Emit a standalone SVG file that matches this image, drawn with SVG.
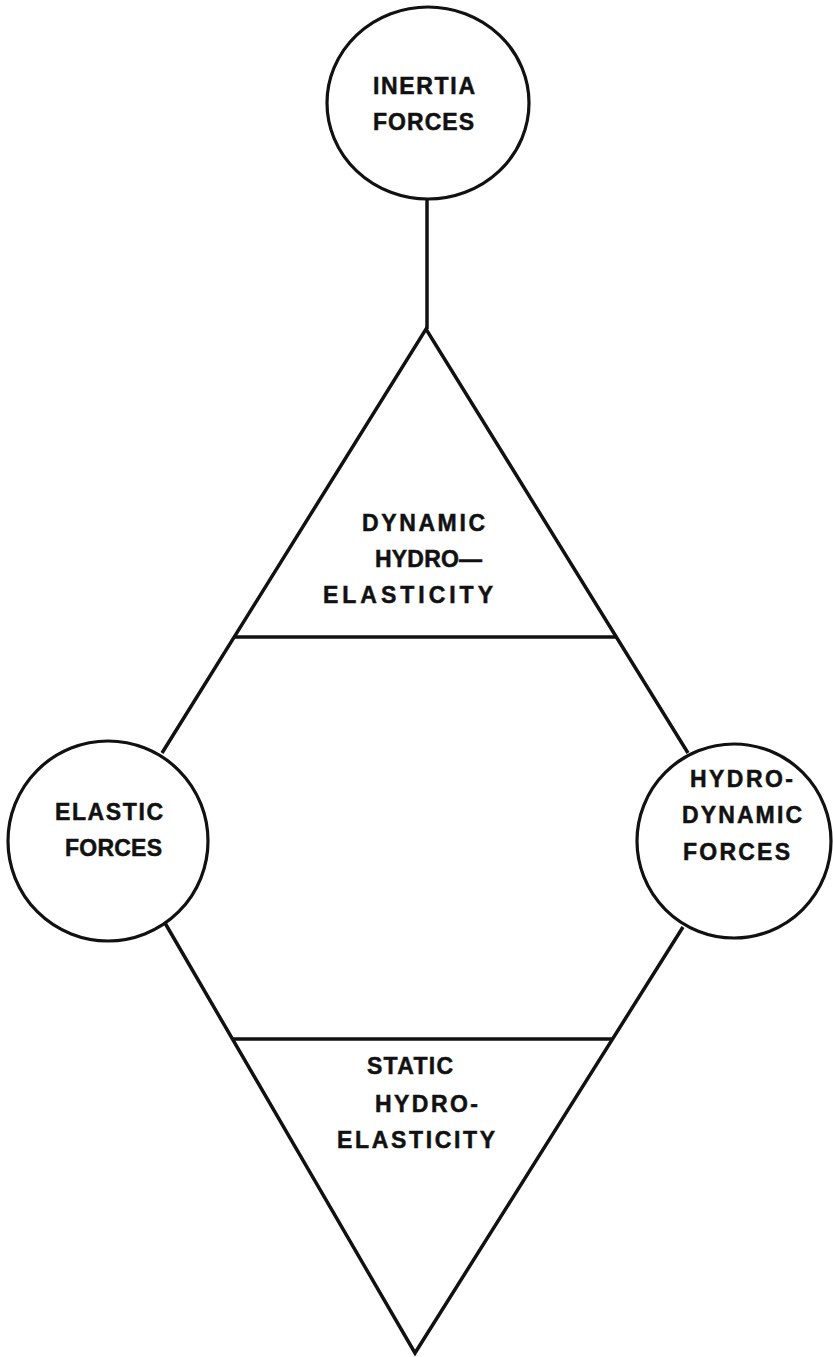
<svg xmlns="http://www.w3.org/2000/svg" width="833" height="1357" viewBox="0 0 833 1357">
<style>
.bg{fill:#ffffff}
.node{fill:#ffffff;stroke:#111111;stroke-width:3.2}
.edge{fill:none;stroke:#111111;stroke-width:3.5;stroke-linejoin:miter;stroke-linecap:butt}
.lbl{font-family:"Liberation Sans",Arial,sans-serif;font-weight:bold;font-size:23px;fill:#111111;stroke:#111111;stroke-width:0.5}
</style>
<rect class="bg" x="0" y="0" width="833" height="1357"/>
<g id="connectors">
<polyline class="edge" points="427,199 427,329"/>
<polyline class="edge" points="162,753 426,329 688,753"/>
<polyline class="edge" points="165,923 415,1353 683,927"/>
<line class="edge" x1="234" y1="637" x2="616" y2="637"/>
<line class="edge" x1="232" y1="1039" x2="612" y2="1039"/>
</g>
<g id="inertia">
<ellipse class="node" cx="428" cy="103" rx="101" ry="96"/>
<text class="lbl" x="373" y="94" textLength="102" lengthAdjust="spacing">INERTIA</text>
<text class="lbl" x="373" y="130" textLength="101" lengthAdjust="spacing">FORCES</text>
</g>
<g id="elastic">
<circle class="node" cx="108" cy="841" r="100"/>
<text class="lbl" x="55" y="820" textLength="108" lengthAdjust="spacing">ELASTIC</text>
<text class="lbl" x="65" y="856" textLength="97" lengthAdjust="spacing">FORCES</text>
</g>
<g id="hydrodynamic">
<circle class="node" cx="734" cy="841" r="97"/>
<text class="lbl" x="690" y="787" textLength="103" lengthAdjust="spacing">HYDRO-</text>
<text class="lbl" x="682" y="823" textLength="120" lengthAdjust="spacing">DYNAMIC</text>
<text class="lbl" x="683" y="860" textLength="107" lengthAdjust="spacing">FORCES</text>
</g>
<g id="dynamic">
<text class="lbl" x="362" y="531" textLength="123" lengthAdjust="spacing">DYNAMIC</text>
<text class="lbl" x="375" y="567" textLength="107" lengthAdjust="spacing">HYDRO—</text>
<text class="lbl" x="323" y="603" textLength="170" lengthAdjust="spacing">ELASTICITY</text>
</g>
<g id="static">
<text class="lbl" x="367" y="1074" textLength="86" lengthAdjust="spacing">STATIC</text>
<text class="lbl" x="375" y="1112" textLength="103" lengthAdjust="spacing">HYDRO-</text>
<text class="lbl" x="337" y="1148" textLength="158" lengthAdjust="spacing">ELASTICITY</text>
</g>
</svg>
